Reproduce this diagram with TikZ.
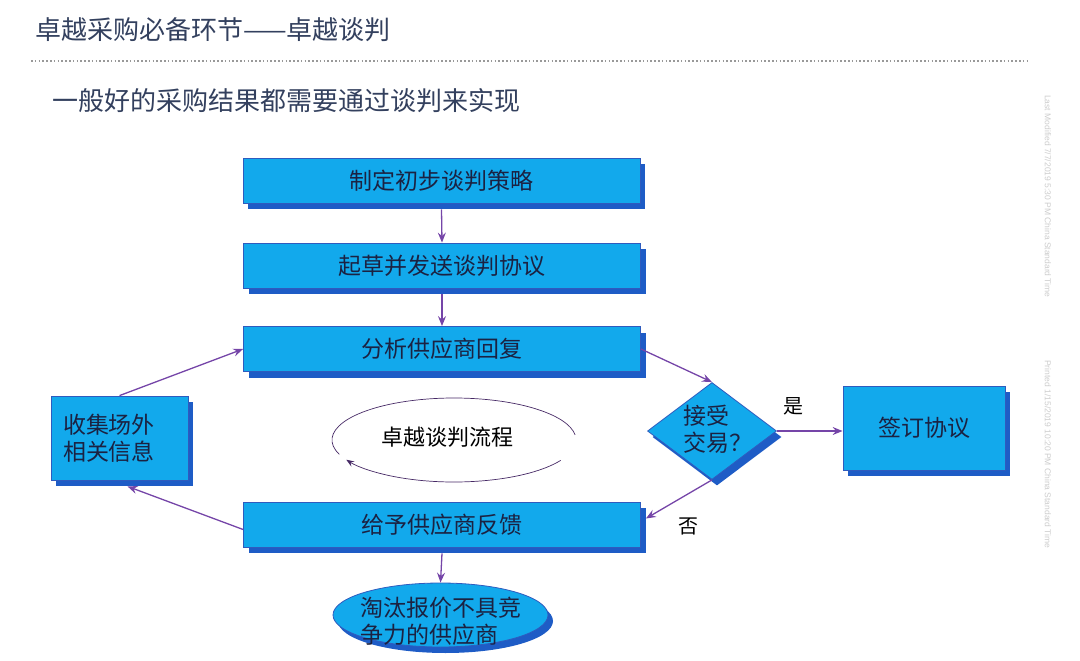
\documentclass[tikz,border=0pt]{standalone}
\usepackage{fontspec}
\setmainfont{Noto Sans CJK SC}
\newfontfamily\stampfont{Liberation Sans}
\usepackage{tikz}
\usetikzlibrary{arrows.meta,shapes.geometric,shadows}
\definecolor{boxblue}{HTML}{12A9EC}
\definecolor{edgeblue}{HTML}{2F5BBE}
\definecolor{shadeblue}{HTML}{1E5CC6}
\definecolor{flowline}{HTML}{7545A8}
\definecolor{titleink}{HTML}{33405E}
\definecolor{boxink}{HTML}{1B2242}
\newcommand\flowfont{\fontsize{23}{27}\selectfont}
\newcommand\headfont{\fontsize{26}{30}\selectfont}

\begin{document}
\begin{tikzpicture}[x=1pt,y=-1pt,
          blueshape/.style={fill=boxblue,draw=edgeblue,line width=0.8pt,text=boxink,font=\flowfont,
            drop shadow={shadow xshift=5pt,shadow yshift=-6pt,fill=shadeblue,opacity=1}},
          stepbox/.style={blueshape,rectangle,minimum width=397pt,minimum height=45pt,inner sep=0pt},
          sidebox/.style={blueshape,rectangle,minimum width=137pt,minimum height=84pt,inner sep=0pt,align=left},
          decision/.style={blueshape,diamond,minimum width=129pt,minimum height=97pt,inner sep=0pt},
          outcome/.style={blueshape,ellipse,minimum width=215pt,minimum height=64pt,inner sep=0pt},
          plain/.style={text=boxink,font=\flowfont,inner sep=0pt,align=left},
          flow/.style={draw=flowline,line width=1.3pt,-{Stealth[length=10pt,width=8pt,inset=3.5pt]}},
          stamp/.style={text=black!20,font=\stampfont\fontsize{8.5}{10}\selectfont,inner sep=0pt}]
          \useasboundingbox (0,0) rectangle (1080,661);
          \node[anchor=west,text=titleink,font=\headfont,inner sep=0pt] (title) at (35,30) {卓越采购必备环节——卓越谈判};
          \draw[black!40,line width=1.4pt,dash pattern=on 1.6pt off 2.2pt] (31,61) coordinate (rulel) -- (1030,61) coordinate (ruler);
          \node[anchor=west,text=titleink,font=\headfont,inner sep=0pt] (lead) at (52,101) {一般好的采购结果都需要通过谈判来实现};
          \node[stamp,anchor=west,rotate=-90] (modified) at (1048,95) {Last Modified 7/7/2019 5:30 PM China Standard Time};
          \node[stamp,anchor=west,rotate=-90] (printed) at (1048,360) {Printed 1/15/2019 10:20 PM China Standard Time};
          \node[stepbox] (plan) at (441.5,180.5) {制定初步谈判策略};
          \node[stepbox] (draft) at (442,265.5) {起草并发送谈判协议};
          \node[stepbox] (reply) at (442,349) {分析供应商回复};
          \node[stepbox] (feedback) at (442,524.5) {给予供应商反馈};
          \node[sidebox,text width=113pt] (info) at (119.5,438) {收集场外\\相关信息};
          \node[decision] (deal) at (712,431) {};
          \node[plain,anchor=west] (dealtext) at (683,429) {接受\\交易？};
          \node[sidebox,minimum width=162pt,align=center] (sign) at (924,428) {签订协议};
          \node[outcome] (drop) at (440.5,615) {};
          \node[plain] (droptext) at (441,621) {淘汰报价不具竞\\争力的供应商};
          \coordinate (loop) at (454,440);
          \node[text=black,font=\fontsize{22}{26}\selectfont,inner sep=0pt] (looptext) at (447,437) {卓越谈判流程};
          \draw[flowline!60!black,line width=0.7pt] (loop) ++(160:122 and 42) arc[start angle=160,end angle=353,x radius=122,y radius=42];
          \draw[flowline!60!black,line width=0.7pt,-{Stealth[length=8pt,width=6pt,inset=3pt]}] (loop) ++(29:122 and 42) arc[start angle=29,end angle=152,x radius=122,y radius=42];
          \draw[flow] ([yshift=-6pt]plan.south) -- (draft.north);
          \draw[flow] ([yshift=-6pt]draft.south) -- (reply.north);
          \draw[flow] (reply.east) -- (deal.north);
          \draw[flow] (deal.east) -- (sign.west |- deal.east) node[pos=0.25,above=12pt,text=black,font=\fontsize{20}{24}\selectfont] (yes) {是};
          \draw[flow] (deal.south) -- ([xshift=5pt,yshift=6pt]feedback.east) node[pos=0.35,below=20pt,text=black,font=\fontsize{20}{24}\selectfont] (no) {否};
          \draw[flow] ([yshift=-6pt]feedback.south) -- (drop.north);
          \draw[flow] ([yshift=-5pt]feedback.west) -- ([xshift=8pt,yshift=-6pt]info.south);
          \draw[flow] (info.north) -- (reply.west);
        \end{tikzpicture}
\end{document}
